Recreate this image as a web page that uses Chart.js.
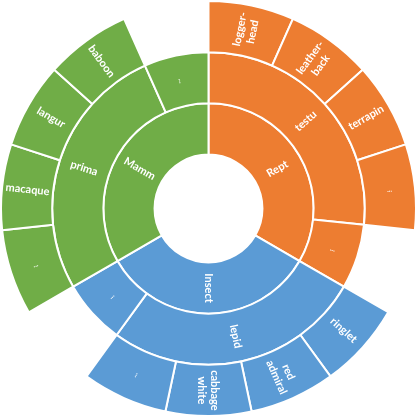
<!DOCTYPE html>
<html lang="en">
<head>
  <meta charset="UTF-8">
  <title>Sunburst</title>
  <style>
    html, body { margin: 0; padding: 0; background: #fff; }
  </style>
</head>
<body>
<div>
  <canvas id="chart" width="417" height="417"></canvas>
</div>

<script src="https://cdn.jsdelivr.net/npm/chart.js"></script>

<script>
  // inner ring
  const groups = ['Rept', 'Insect', 'Mamm'];
  const groupValues = [5, 5, 5];

  // middle ring
  const subgroups = ['testu', '...', 'lepid', '...', 'prima', '...'];
  const subgroupValues = [4, 1, 4, 1, 4, 1];
  const subgroupParent = [0, 0, 1, 1, 2, 2];

  // outer ring (null = no leaf under that slice)
  const leaves = [
    'logger-\nhead', 'leather-\nback', 'terrapin', '...', null,
    'ringlet', 'red\nadmiral', 'cabbage\nwhite', '...', null,
    '...', 'macaque', 'langur', 'baboon', null
  ];
  const leafValues = [1, 1, 1, 1, 1, 1, 1, 1, 1, 1, 1, 1, 1, 1, 1];
  const leafParent = [0, 0, 0, 0, 0, 1, 1, 1, 1, 1, 2, 2, 2, 2, 2];

  const colors = ['#ED7D31', '#5B9BD5', '#70AD47'];

  const leafColors = leaves.map((l, i) => l === null ? 'rgba(0,0,0,0)' : colors[leafParent[i]]);
  const leafBorders = leaves.map((l) => l === null ? 'rgba(0,0,0,0)' : '#fff');

  const labelPlugin = {
    id: 'sunLabels',
    afterDatasetsDraw(chart) {
      const ctx = chart.ctx;
      ctx.save();
      ctx.fillStyle = '#fff';
      ctx.textAlign = 'center';
      ctx.textBaseline = 'middle';
      chart.data.datasets.forEach((ds, i) => {
        const meta = chart.getDatasetMeta(i);
        meta.data.forEach((arc, j) => {
          const text = ds.names[j];
          if (!text) return;
          const p = arc.getProps(['x', 'y', 'startAngle', 'endAngle', 'innerRadius', 'outerRadius']);
          const mid = (p.startAngle + p.endAngle) / 2;
          const r = (p.innerRadius + p.outerRadius) / 2;
          const x = p.x + Math.cos(mid) * r;
          const y = p.y + Math.sin(mid) * r;
          // keep text readable: flip on the left half
          const rot = mid <= Math.PI / 2 + 1e-6 ? mid : mid - Math.PI;
          ctx.save();
          ctx.translate(x, y);
          ctx.rotate(rot);
          ctx.font = text === '...' ? 'bold 7px Lato' : 'bold 11px Lato';
          const lines = text.split('\n');
          const lh = 13;
          lines.forEach((line, k) => {
            ctx.fillText(line, 0, (k - (lines.length - 1) / 2) * lh);
          });
          ctx.restore();
        });
      });
      ctx.restore();
    }
  };

  new Chart(document.getElementById('chart'), {
    type: 'doughnut',
    data: {
      datasets: [
        {
          data: leafValues,
          names: leaves,
          backgroundColor: leafColors,
          borderColor: leafBorders,
          borderWidth: 2
        },
        {
          data: subgroupValues,
          names: subgroups,
          backgroundColor: subgroupParent.map(k => colors[k]),
          borderColor: '#fff',
          borderWidth: 2
        },
        {
          data: groupValues,
          names: groups,
          backgroundColor: colors,
          borderColor: '#fff',
          borderWidth: 2
        }
      ]
    },
    options: {
      responsive: false,
      animation: false,
      cutout: '26%',
      layout: { padding: 0 },
      plugins: {
        legend: { display: false },
        tooltip: { enabled: false }
      }
    },
    plugins: [labelPlugin]
  });
</script>
</body>
</html>
